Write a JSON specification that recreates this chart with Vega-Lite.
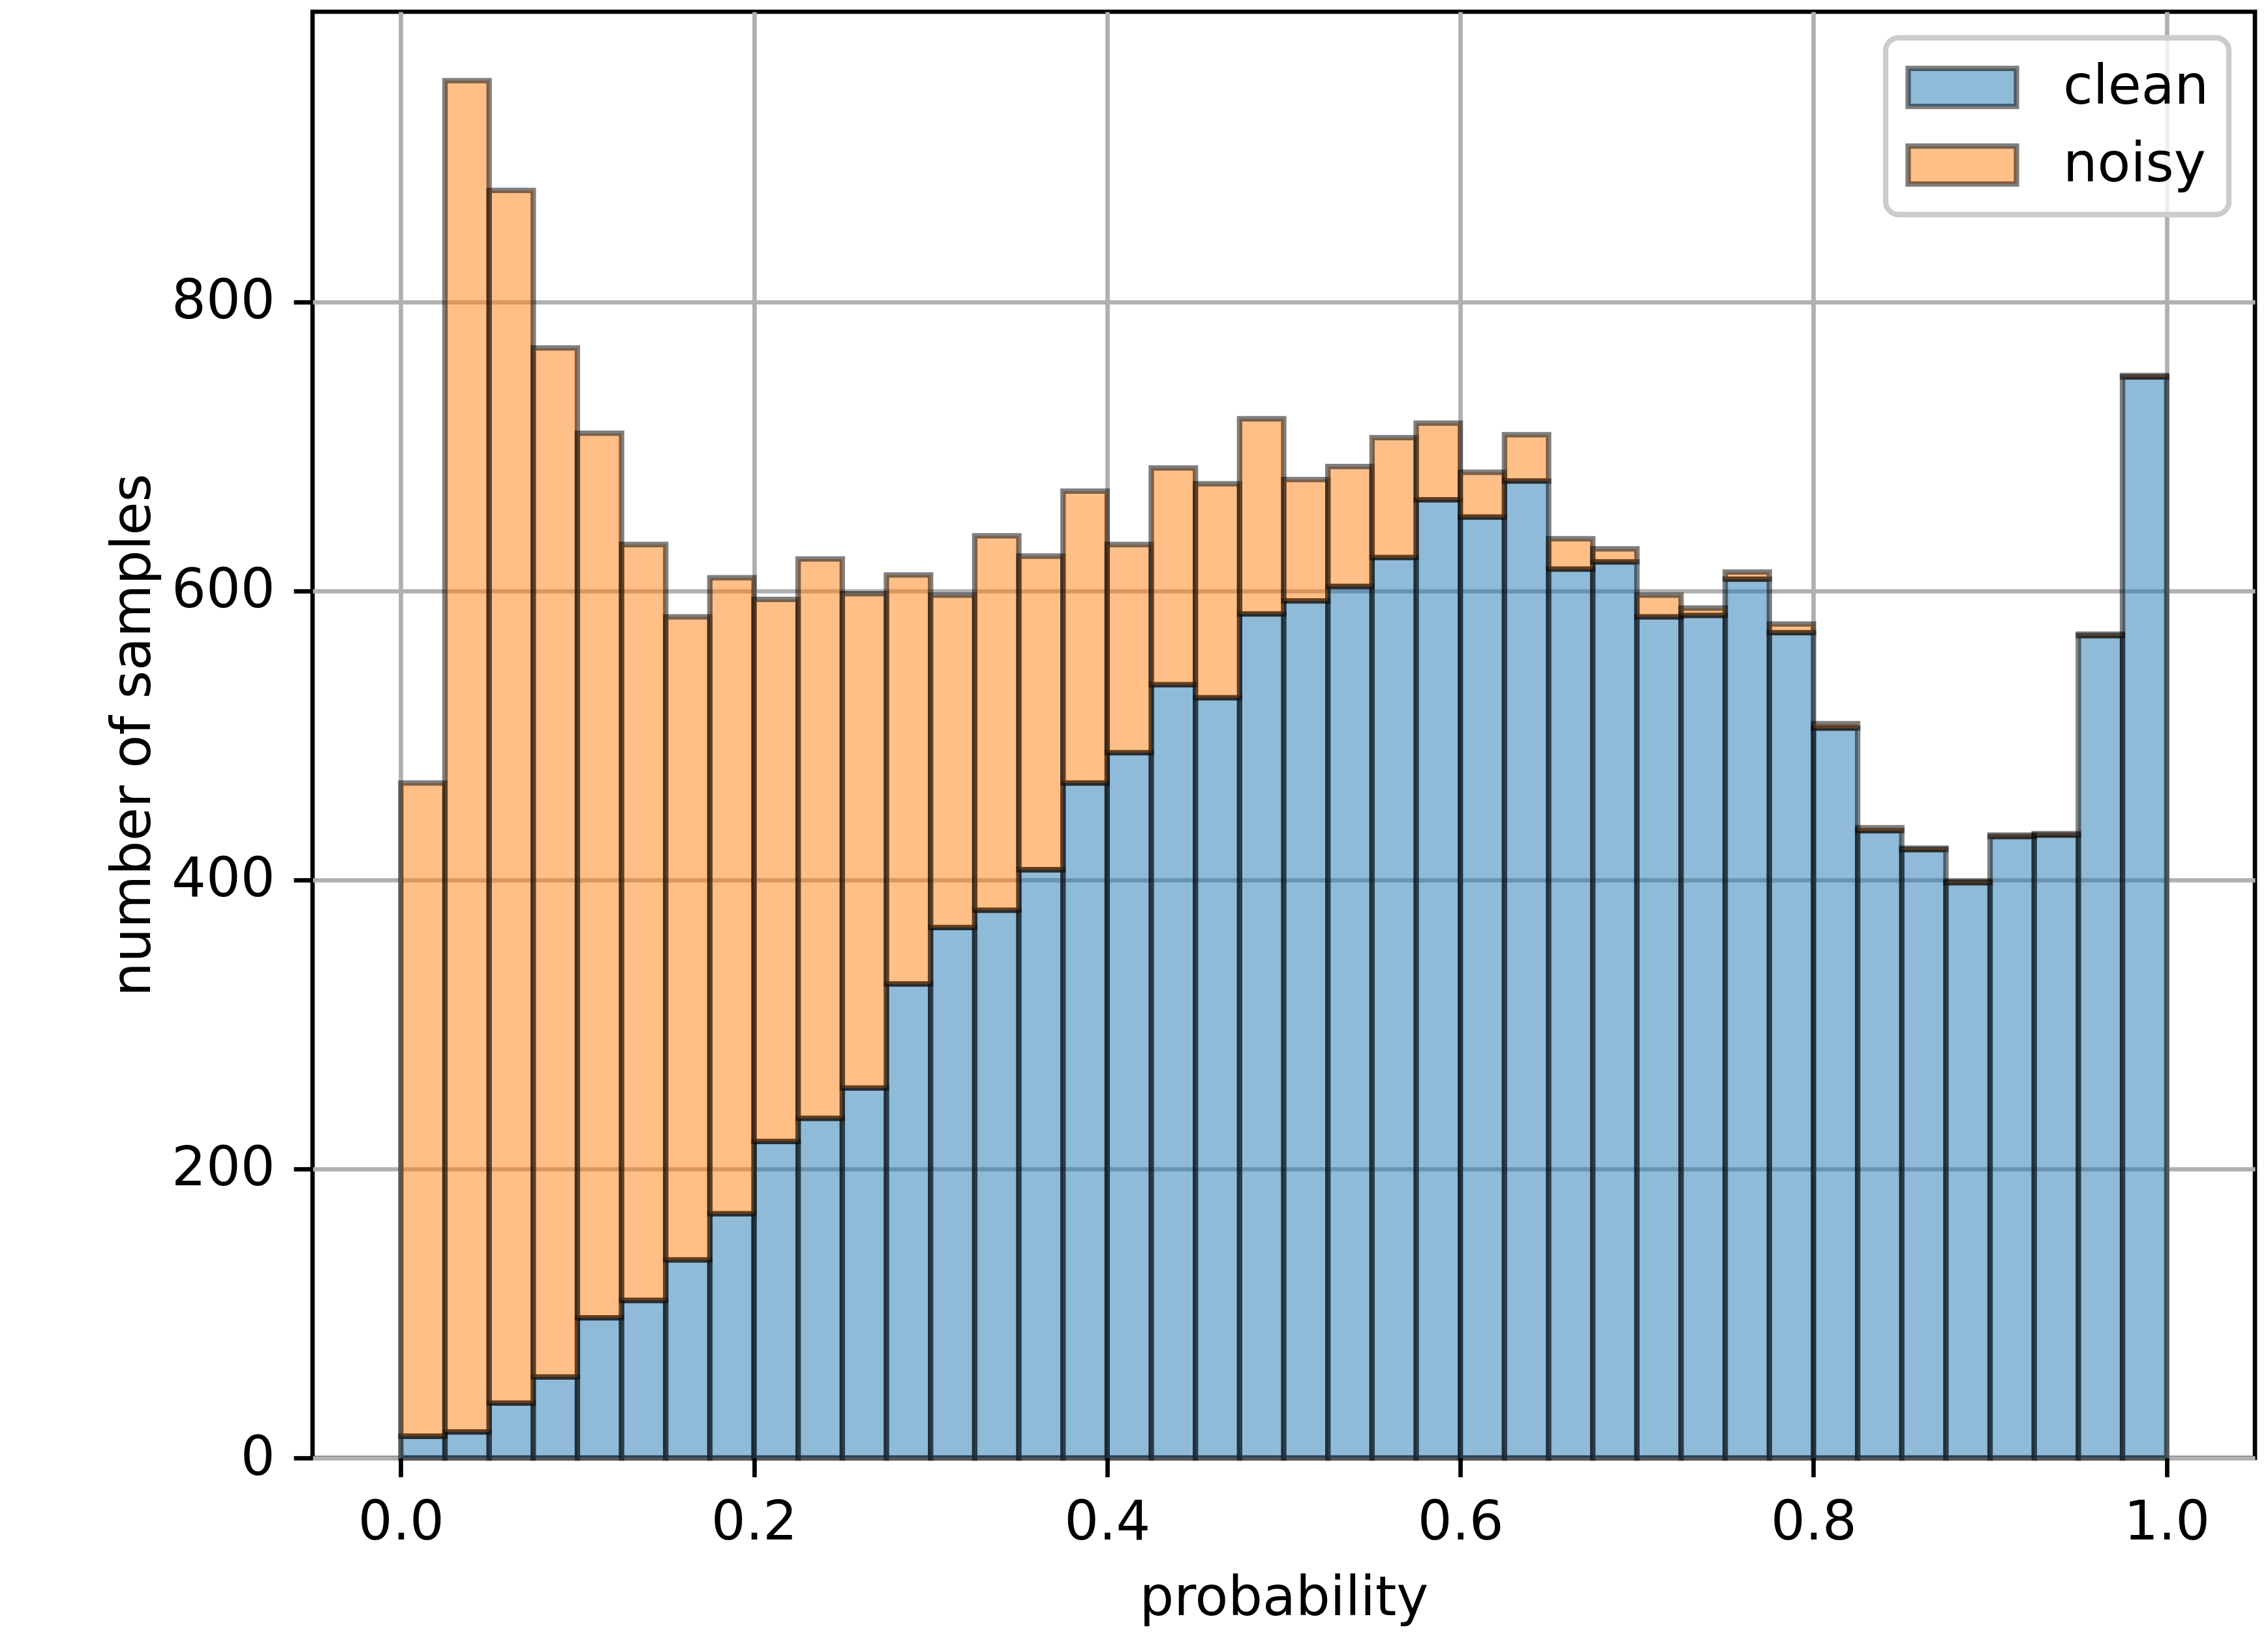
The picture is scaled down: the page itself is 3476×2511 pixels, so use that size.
{
  "$schema": "https://vega.github.io/schema/vega-lite/v6.json",
  "width": 2977,
  "height": 2217,
  "autosize": {"type": "none"},
  "padding": {"left": 479, "top": 18, "right": 20, "bottom": 276},
  "background": "white",
  "config": {
    "font": "DejaVu Sans",
    "view": {"stroke": "black", "strokeWidth": 6.7},
    "axis": {
      "labelFont": "DejaVu Sans",
      "labelFontSize": 83,
      "labelColor": "black",
      "titleFont": "DejaVu Sans",
      "titleFontSize": 83,
      "titleFontWeight": "normal",
      "titleColor": "black",
      "tickColor": "black",
      "tickWidth": 6.7,
      "tickSize": 29,
      "labelPadding": 29,
      "domain": false,
      "grid": true,
      "gridColor": "#b0b0b0",
      "gridWidth": 6.7,
      "titlePadding": 33
    }
  },
  "data": {
    "values": [
      {"bin_start": 0.000, "bin_end": 0.025, "group": "clean", "count": 15},
      {"bin_start": 0.000, "bin_end": 0.025, "group": "noisy", "count": 452},
      {"bin_start": 0.025, "bin_end": 0.050, "group": "clean", "count": 18},
      {"bin_start": 0.025, "bin_end": 0.050, "group": "noisy", "count": 935},
      {"bin_start": 0.050, "bin_end": 0.075, "group": "clean", "count": 38},
      {"bin_start": 0.050, "bin_end": 0.075, "group": "noisy", "count": 839},
      {"bin_start": 0.075, "bin_end": 0.100, "group": "clean", "count": 56},
      {"bin_start": 0.075, "bin_end": 0.100, "group": "noisy", "count": 712},
      {"bin_start": 0.100, "bin_end": 0.125, "group": "clean", "count": 97},
      {"bin_start": 0.100, "bin_end": 0.125, "group": "noisy", "count": 612},
      {"bin_start": 0.125, "bin_end": 0.150, "group": "clean", "count": 109},
      {"bin_start": 0.125, "bin_end": 0.150, "group": "noisy", "count": 523},
      {"bin_start": 0.150, "bin_end": 0.175, "group": "clean", "count": 137},
      {"bin_start": 0.150, "bin_end": 0.175, "group": "noisy", "count": 445},
      {"bin_start": 0.175, "bin_end": 0.200, "group": "clean", "count": 169},
      {"bin_start": 0.175, "bin_end": 0.200, "group": "noisy", "count": 440},
      {"bin_start": 0.200, "bin_end": 0.225, "group": "clean", "count": 219},
      {"bin_start": 0.200, "bin_end": 0.225, "group": "noisy", "count": 375},
      {"bin_start": 0.225, "bin_end": 0.250, "group": "clean", "count": 235},
      {"bin_start": 0.225, "bin_end": 0.250, "group": "noisy", "count": 387},
      {"bin_start": 0.250, "bin_end": 0.275, "group": "clean", "count": 256},
      {"bin_start": 0.250, "bin_end": 0.275, "group": "noisy", "count": 342},
      {"bin_start": 0.275, "bin_end": 0.300, "group": "clean", "count": 328},
      {"bin_start": 0.275, "bin_end": 0.300, "group": "noisy", "count": 283},
      {"bin_start": 0.300, "bin_end": 0.325, "group": "clean", "count": 367},
      {"bin_start": 0.300, "bin_end": 0.325, "group": "noisy", "count": 230},
      {"bin_start": 0.325, "bin_end": 0.350, "group": "clean", "count": 379},
      {"bin_start": 0.325, "bin_end": 0.350, "group": "noisy", "count": 259},
      {"bin_start": 0.350, "bin_end": 0.375, "group": "clean", "count": 407},
      {"bin_start": 0.350, "bin_end": 0.375, "group": "noisy", "count": 217},
      {"bin_start": 0.375, "bin_end": 0.400, "group": "clean", "count": 467},
      {"bin_start": 0.375, "bin_end": 0.400, "group": "noisy", "count": 202},
      {"bin_start": 0.400, "bin_end": 0.425, "group": "clean", "count": 488},
      {"bin_start": 0.400, "bin_end": 0.425, "group": "noisy", "count": 144},
      {"bin_start": 0.425, "bin_end": 0.450, "group": "clean", "count": 535},
      {"bin_start": 0.425, "bin_end": 0.450, "group": "noisy", "count": 150},
      {"bin_start": 0.450, "bin_end": 0.475, "group": "clean", "count": 526},
      {"bin_start": 0.450, "bin_end": 0.475, "group": "noisy", "count": 148},
      {"bin_start": 0.475, "bin_end": 0.500, "group": "clean", "count": 584},
      {"bin_start": 0.475, "bin_end": 0.500, "group": "noisy", "count": 135},
      {"bin_start": 0.500, "bin_end": 0.525, "group": "clean", "count": 593},
      {"bin_start": 0.500, "bin_end": 0.525, "group": "noisy", "count": 84},
      {"bin_start": 0.525, "bin_end": 0.550, "group": "clean", "count": 603},
      {"bin_start": 0.525, "bin_end": 0.550, "group": "noisy", "count": 83},
      {"bin_start": 0.550, "bin_end": 0.575, "group": "clean", "count": 623},
      {"bin_start": 0.550, "bin_end": 0.575, "group": "noisy", "count": 83},
      {"bin_start": 0.575, "bin_end": 0.600, "group": "clean", "count": 663},
      {"bin_start": 0.575, "bin_end": 0.600, "group": "noisy", "count": 53},
      {"bin_start": 0.600, "bin_end": 0.625, "group": "clean", "count": 651},
      {"bin_start": 0.600, "bin_end": 0.625, "group": "noisy", "count": 31},
      {"bin_start": 0.625, "bin_end": 0.650, "group": "clean", "count": 676},
      {"bin_start": 0.625, "bin_end": 0.650, "group": "noisy", "count": 32},
      {"bin_start": 0.650, "bin_end": 0.675, "group": "clean", "count": 615},
      {"bin_start": 0.650, "bin_end": 0.675, "group": "noisy", "count": 21},
      {"bin_start": 0.675, "bin_end": 0.700, "group": "clean", "count": 620},
      {"bin_start": 0.675, "bin_end": 0.700, "group": "noisy", "count": 9},
      {"bin_start": 0.700, "bin_end": 0.725, "group": "clean", "count": 582},
      {"bin_start": 0.700, "bin_end": 0.725, "group": "noisy", "count": 15},
      {"bin_start": 0.725, "bin_end": 0.750, "group": "clean", "count": 583},
      {"bin_start": 0.725, "bin_end": 0.750, "group": "noisy", "count": 5},
      {"bin_start": 0.750, "bin_end": 0.775, "group": "clean", "count": 608},
      {"bin_start": 0.750, "bin_end": 0.775, "group": "noisy", "count": 5},
      {"bin_start": 0.775, "bin_end": 0.800, "group": "clean", "count": 571},
      {"bin_start": 0.775, "bin_end": 0.800, "group": "noisy", "count": 6},
      {"bin_start": 0.800, "bin_end": 0.825, "group": "clean", "count": 505},
      {"bin_start": 0.800, "bin_end": 0.825, "group": "noisy", "count": 3},
      {"bin_start": 0.825, "bin_end": 0.850, "group": "clean", "count": 434},
      {"bin_start": 0.825, "bin_end": 0.850, "group": "noisy", "count": 2},
      {"bin_start": 0.850, "bin_end": 0.875, "group": "clean", "count": 421},
      {"bin_start": 0.850, "bin_end": 0.875, "group": "noisy", "count": 1},
      {"bin_start": 0.875, "bin_end": 0.900, "group": "clean", "count": 398},
      {"bin_start": 0.875, "bin_end": 0.900, "group": "noisy", "count": 1},
      {"bin_start": 0.900, "bin_end": 0.925, "group": "clean", "count": 430},
      {"bin_start": 0.900, "bin_end": 0.925, "group": "noisy", "count": 1},
      {"bin_start": 0.925, "bin_end": 0.950, "group": "clean", "count": 431},
      {"bin_start": 0.925, "bin_end": 0.950, "group": "noisy", "count": 1},
      {"bin_start": 0.950, "bin_end": 0.975, "group": "clean", "count": 569},
      {"bin_start": 0.950, "bin_end": 0.975, "group": "noisy", "count": 1},
      {"bin_start": 0.975, "bin_end": 1.000, "group": "clean", "count": 748},
      {"bin_start": 0.975, "bin_end": 1.000, "group": "noisy", "count": 1}
    ]
  },
  "transform": [
    {"stack": "count", "groupby": ["bin_start"], "sort": [{"field": "group", "order": "ascending"}], "as": ["y0", "y1"]}
  ],
  "mark": {
    "type": "bar",
    "fillOpacity": 0.5,
    "stroke": "black",
    "strokeOpacity": 0.5,
    "strokeWidth": 8.3
  },
  "encoding": {
    "x": {
      "field": "bin_start",
      "type": "quantitative",
      "scale": {"domain": [-0.05, 1.05], "nice": false, "zero": false},
      "axis": {"values": [0, 0.2, 0.4, 0.6, 0.8, 1.0], "format": ".1f", "title": "probability"}
    },
    "x2": {"field": "bin_end"},
    "y": {
      "field": "y0",
      "type": "quantitative",
      "scale": {"domain": [0, 1000.65], "nice": false},
      "axis": {"values": [0, 200, 400, 600, 800], "format": "d", "title": "number of samples"}
    },
    "y2": {"field": "y1"},
    "color": {
      "field": "group",
      "type": "nominal",
      "scale": {"domain": ["clean", "noisy"], "range": ["#1f77b4", "#ff7f0e"]},
      "legend": {
        "title": null,
        "orient": "top-right",
        "offset": 40,
        "padding": 30,
        "labelFont": "DejaVu Sans",
        "labelFontSize": 83,
        "labelColor": "black",
        "labelLimit": 1000,
        "labelOffset": 150,
        "rowPadding": 27,
        "symbolType": "M-1,-0.7L3,-0.7L3,0.7L-1,0.7Z",
        "symbolSize": 6889,
        "symbolStrokeColor": "black",
        "symbolStrokeWidth": 8.3,
        "strokeColor": "#cccccc",
        "cornerRadius": 20,
        "fillColor": "rgba(255,255,255,0.8)",
        "encode": {
          "symbols": {"update": {"fillOpacity": {"value": 0.5}, "strokeOpacity": {"value": 0.5}}},
          "legend": {"update": {"strokeWidth": {"value": 8.3}}}
        }
      }
    },
    "order": {"field": "group", "type": "nominal", "sort": "ascending"}
  }
}
